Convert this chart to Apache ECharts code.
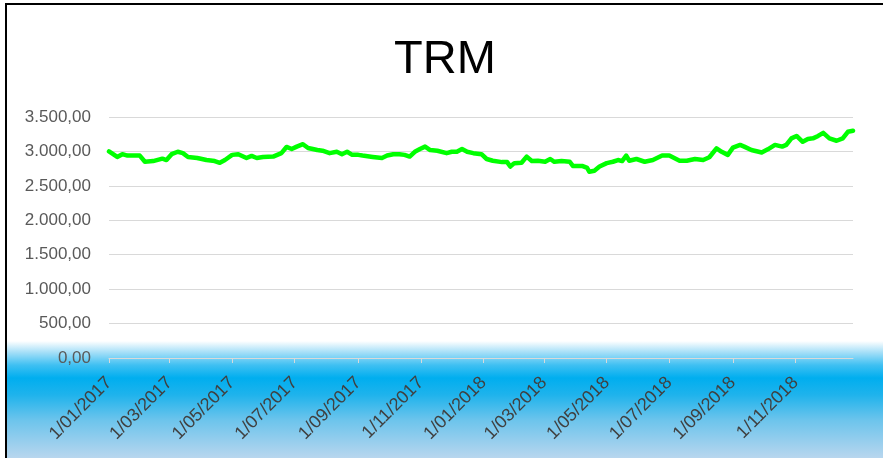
<!DOCTYPE html>
<html>
<head>
<meta charset="utf-8">
<script src="https://cdn.jsdelivr.net/npm/echarts@6/dist/echarts.min.js"></script>
<style>
  html, body { margin: 0; padding: 0; background: #fff; }
  #chart {
    position: absolute; left: 5px; top: 3px;
    width: 876px; height: 453px;
    border-left: 2px solid #000; border-top: 2px solid #000;
    background: linear-gradient(to bottom,
      #ffffff 0px, #ffffff 336px, #a8e0f8 347px, #40c0f2 360px,
      #00aeef 373px, #1fb3ec 390px, #6cc4ec 415px, #b8d6ee 453px);
  }
</style>
</head>
<body>
<div id="chart"></div>
<script>
const title = 'TRM';

const dates = [
  '2017-01-01','2017-01-02','2017-01-09','2017-01-14','2017-01-19','2017-01-31','2017-02-05','2017-02-13',
  '2017-02-22','2017-02-26','2017-03-03','2017-03-09','2017-03-14','2017-03-19','2017-03-28','2017-04-06',
  '2017-04-14','2017-04-19','2017-04-24','2017-05-01','2017-05-07','2017-05-15','2017-05-20','2017-05-25',
  '2017-05-31','2017-06-10','2017-06-18','2017-06-23','2017-06-28','2017-07-03','2017-07-09','2017-07-14',
  '2017-07-23','2017-07-28','2017-08-04','2017-08-11','2017-08-16','2017-08-21','2017-08-26','2017-09-01',
  '2017-09-05','2017-09-15','2017-09-24','2017-09-29','2017-10-05','2017-10-11','2017-10-16','2017-10-21',
  '2017-10-26','2017-10-31','2017-11-05','2017-11-10','2017-11-17','2017-11-26','2017-12-01','2017-12-06',
  '2017-12-11','2017-12-16','2017-12-22','2017-12-30','2018-01-04','2018-01-10','2018-01-19','2018-01-24',
  '2018-01-27','2018-01-31','2018-02-07','2018-02-12','2018-02-17','2018-02-23','2018-03-02','2018-03-07',
  '2018-03-11','2018-03-18','2018-03-26','2018-03-29','2018-04-07','2018-04-12','2018-04-14','2018-04-19',
  '2018-04-24','2018-05-01','2018-05-07','2018-05-12','2018-05-16','2018-05-20','2018-05-23','2018-05-30',
  '2018-06-07','2018-06-15','2018-06-24','2018-07-01','2018-07-11','2018-07-18','2018-07-26','2018-08-03',
  '2018-08-09','2018-08-16','2018-08-21','2018-08-27','2018-09-01','2018-09-08','2018-09-12','2018-09-19',
  '2018-09-29','2018-10-05','2018-10-12','2018-10-19','2018-10-23','2018-10-28','2018-11-02','2018-11-08',
  '2018-11-13','2018-11-18','2018-11-23','2018-11-28','2018-12-04','2018-12-11','2018-12-17','2018-12-22',
  '2018-12-27'
];

const trm = [
  3000,3004,2920,2960,2940,2940,2850,2860,
  2895,2875,2960,2995,2975,2920,2905,2875,
  2860,2835,2875,2950,2960,2905,2935,2905,
  2920,2925,2975,3065,3035,3070,3105,3050,
  3020,3010,2975,2995,2960,2995,2950,2950,
  2940,2920,2905,2940,2960,2960,2950,2925,
  2995,3035,3070,3020,3010,2975,2995,2995,
  3035,2995,2975,2960,2890,2865,2845,2845,
  2780,2830,2835,2925,2860,2865,2850,2890,
  2850,2860,2850,2790,2790,2760,2705,2720,
  2780,2830,2850,2875,2860,2940,2865,2890,
  2850,2875,2940,2940,2865,2865,2890,2875,
  2915,3045,2995,2950,3055,3095,3070,3020,
  2985,3030,3095,3070,3095,3190,3225,3140,
  3180,3190,3225,3270,3190,3155,3190,3285,
  3300
];

const xTickLabels = ['1/01/2017','1/03/2017','1/05/2017','1/07/2017','1/09/2017','1/11/2017',
  '1/01/2018','1/03/2018','1/05/2018','1/07/2018','1/09/2018','1/11/2018'];
const yTicks = [0, 500, 1000, 1500, 2000, 2500, 3000, 3500];

// x is counted in days from the first date (UTC so DST never shifts a day)
const DAY = 86400000;
function isoToUTC(s) {
  const p = s.split('-');
  return Date.UTC(+p[0], +p[1] - 1, +p[2]);
}
function labelToUTC(s) {
  const p = s.split('/');
  return Date.UTC(+p[2], +p[1] - 1, +p[0]);
}
const t0 = isoToUTC(dates[0]);
const toDay = (t) => Math.round((t - t0) / DAY);

function fmtNum(v) {
  const parts = v.toFixed(2).split('.');
  return parts[0].replace(/\B(?=(\d{3})+(?!\d))/g, '.') + ',' + parts[1];
}

const tickDays = xTickLabels.map((s) => toDay(labelToUTC(s)));
const labelByDay = {};
tickDays.forEach((d, i) => { labelByDay[d] = xTickLabels[i]; });

const points = dates.map((d, i) => [toDay(isoToUTC(d)), trm[i]]);
const lastDay = points[points.length - 1][0];

const chart = echarts.init(document.getElementById('chart'), null, { renderer: 'canvas' });
const fontFamily = '"Liberation Sans", Arial, sans-serif';

const option = {
  backgroundColor: 'transparent',
  animation: false,
  title: {
    text: title,
    left: 'center',
    top: 27,
    textStyle: { fontFamily, fontSize: 47, fontWeight: 'normal', color: '#000' }
  },
  grid: { left: 102, right: 30, top: 112, bottom: 100 },
  xAxis: {
    type: 'value',
    min: 0,
    max: lastDay,
    axisLine: { show: true, lineStyle: { color: '#d9d9d9', width: 1 } },
    axisTick: { show: true, length: 5, lineStyle: { color: '#d9d9d9' }, customValues: tickDays },
    splitLine: { show: false },
    axisLabel: {
      customValues: tickDays,
      rotate: 45,
      margin: 22,
      color: '#404040',
      fontFamily,
      fontSize: 18,
      formatter: (v) => labelByDay[v] || ''
    }
  },
  yAxis: {
    type: 'value',
    min: yTicks[0],
    max: yTicks[yTicks.length - 1],
    interval: 500,
    axisLine: { show: false },
    axisTick: { show: false },
    splitLine: { lineStyle: { color: '#d9d9d9', width: 1 } },
    axisLabel: {
      margin: 18,
      color: '#595959',
      fontFamily,
      fontSize: 17,
      formatter: (v) => fmtNum(v)
    }
  },
  series: [
    {
      type: 'line',
      data: points,
      showSymbol: false,
      symbol: 'none',
      lineStyle: { color: '#00ff00', width: 4.5, join: 'round', cap: 'round' },
      itemStyle: { color: '#00ff00' }
    }
  ]
};

chart.setOption(option);
</script>
</body>
</html>
